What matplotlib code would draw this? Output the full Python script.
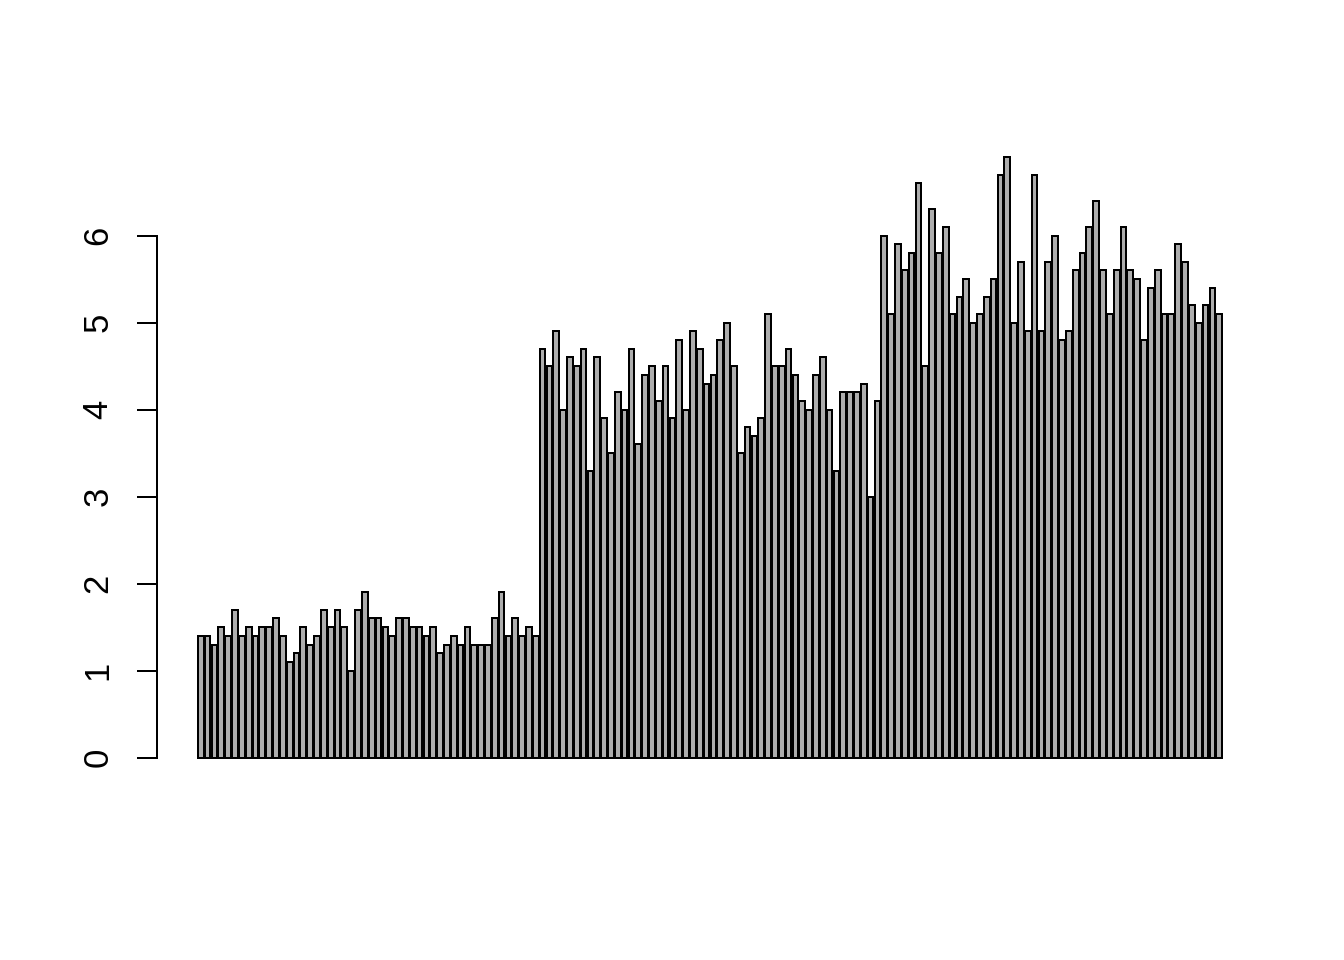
import numpy as np
import matplotlib.pyplot as plt

# petal length, 150 observations in original order
setosa = [1.4, 1.4, 1.3, 1.5, 1.4, 1.7, 1.4, 1.5, 1.4, 1.5, 1.5, 1.6, 1.4, 1.1, 1.2,
          1.5, 1.3, 1.4, 1.7, 1.5, 1.7, 1.5, 1.0, 1.7, 1.9, 1.6, 1.6, 1.5, 1.4, 1.6,
          1.6, 1.5, 1.5, 1.4, 1.5, 1.2, 1.3, 1.4, 1.3, 1.5, 1.3, 1.3, 1.3, 1.6, 1.9,
          1.4, 1.6, 1.4, 1.5, 1.4]
versicolor = [4.7, 4.5, 4.9, 4.0, 4.6, 4.5, 4.7, 3.3, 4.6, 3.9, 3.5, 4.2, 4.0, 4.7, 3.6,
              4.4, 4.5, 4.1, 4.5, 3.9, 4.8, 4.0, 4.9, 4.7, 4.3, 4.4, 4.8, 5.0, 4.5, 3.5,
              3.8, 3.7, 3.9, 5.1, 4.5, 4.5, 4.7, 4.4, 4.1, 4.0, 4.4, 4.6, 4.0, 3.3, 4.2,
              4.2, 4.2, 4.3, 3.0, 4.1]
virginica = [6.0, 5.1, 5.9, 5.6, 5.8, 6.6, 4.5, 6.3, 5.8, 6.1, 5.1, 5.3, 5.5, 5.0, 5.1,
             5.3, 5.5, 6.7, 6.9, 5.0, 5.7, 4.9, 6.7, 4.9, 5.7, 6.0, 4.8, 4.9, 5.6, 5.8,
             6.1, 6.4, 5.6, 5.1, 5.6, 6.1, 5.6, 5.5, 4.8, 5.4, 5.6, 5.1, 5.1, 5.9, 5.7,
             5.2, 5.0, 5.2, 5.4, 5.1]
heights = np.array(setosa + versicolor + virginica)
y_ticks = [0, 1, 2, 3, 4, 5, 6]

plt.rcParams['font.family'] = ['Liberation Sans', 'DejaVu Sans']

fig = plt.figure(figsize=(7, 5), dpi=192)
W, H = 1344, 960
ax = fig.add_axes([157 / W, (960 - 788) / H, 1106 / W, 655 / H])

# R barplot style: width 1, space 0.2
n = len(heights)
lefts = 0.2 + 1.2 * np.arange(n)
ax.bar(lefts, heights, width=1.0, align='edge', color='#ADADAD',
       edgecolor='black', linewidth=0.75)

# axis ranges with 4% padding like R
ymin, ymax = -0.01 * heights.max(), heights.max()
ypad = 0.04 * (ymax - ymin)
ax.set_ylim(ymin - ypad, ymax + ypad)
xmin, xmax = 0.2, lefts[-1] + 1.0
xpad = 0.04 * (xmax - xmin)
ax.set_xlim(xmin - xpad, xmax + xpad)

for s in ['top', 'right', 'bottom']:
    ax.spines[s].set_visible(False)
ax.spines['left'].set_bounds(0, 6)
ax.spines['left'].set_linewidth(0.75)
ax.set_xticks([])
ax.set_yticks(y_ticks)
ax.set_yticklabels([str(t) for t in y_ticks], rotation=90, va='center', fontsize=13)
ax.tick_params(axis='y', length=7.5, width=0.75, pad=8.5)

fig.savefig('out.png', dpi=192, facecolor='white')
